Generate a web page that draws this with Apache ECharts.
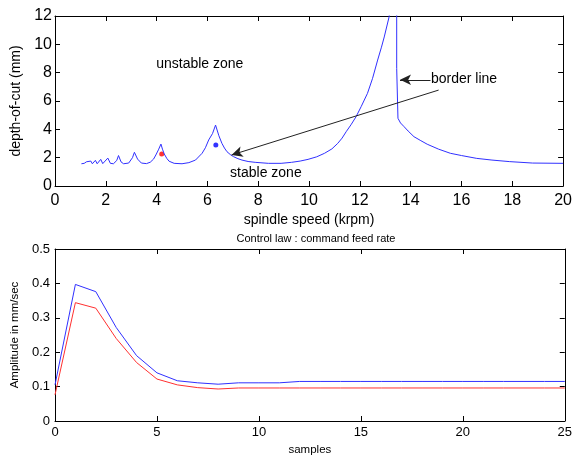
<!DOCTYPE html>
<html>
<head>
<meta charset="utf-8">
<script src="https://cdn.jsdelivr.net/npm/echarts@6/dist/echarts.min.js"></script>
<style>
  html, body { margin: 0; padding: 0; background: #fff; }
  #chart { width: 575px; height: 457px; }
</style>
</head>
<body>
<div id="chart"></div>
<script>
let chart = echarts.init(document.getElementById('chart'));

/* Stability lobe border (spindle speed krpm / depth of cut mm). */
let lobeSpeed = [1.04, 1.15, 1.24, 1.3, 1.41, 1.47, 1.59, 1.66, 1.8, 1.88, 2.08, 2.18, 2.3, 2.43, 2.5, 2.6, 2.7, 2.9, 3.05, 3.125,
    3.25, 3.4, 3.6, 3.75, 3.88, 3.97, 4.07, 4.17, 4.23, 4.3, 4.4, 4.49, 4.69, 5.0, 5.27, 5.53, 5.79, 5.92, 6.05, 6.2, 6.32,
    6.45, 6.57, 6.67, 6.77, 6.9, 7.03, 7.2, 7.36, 7.6, 7.88, 8.4, 8.9, 9.31, 9.65, 9.96, 10.3, 10.61, 10.9, 11.13, 11.3,
    11.46, 11.65, 11.85, 12.05, 12.3, 12.5, 12.7, 12.85, 12.96, 13.15, 13.25, 13.45, 13.45, 13.5, 13.5, 13.6, 13.74, 13.9,
    14.13, 14.4, 14.65, 15.1, 15.56, 16.0, 16.6, 17.2, 17.9, 18.8, 20];
let lobeDepth = [1.57, 1.6, 1.71, 1.57, 1.76, 1.57, 1.81, 1.57, 1.88, 1.58, 1.97, 1.6, 1.57, 1.8, 2.15, 1.7, 1.57, 1.62, 2.0, 2.38,
    1.9, 1.62, 1.58, 1.68, 1.9, 2.19, 2.55, 2.96, 2.6, 2.26, 1.95, 1.75, 1.6, 1.57, 1.65, 1.83, 2.31, 2.7, 3.25, 3.7, 4.3,
    3.55, 3.01, 2.68, 2.42, 2.22, 2.07, 1.93, 1.83, 1.73, 1.67, 1.6, 1.6, 1.67, 1.76, 1.88, 2.06, 2.31, 2.62, 3.01, 3.38,
    3.83, 4.32, 4.89, 5.6, 6.54, 7.6, 8.89, 9.8, 10.52, 11.93, 13.5, 14, 8.3, 8.2, 4.78, 4.45, 4.19, 3.88,
    3.48, 3.2, 2.95, 2.6, 2.31, 2.15, 1.95, 1.83, 1.72, 1.62, 1.6];

/* Marked cutting conditions. */
let redPoint = [4.2, 2.26];
let bluePoint = [6.33, 2.9];

/* Text annotations. */
let notes = ['unstable zone', 'stable zone', 'border line'];
let noteAt = [[5.7, 8.6], [8.3, 0.92], [14.8, 7.55]];
let longArrow = [[15.1, 6.77], [6.95, 2.19]];
let borderArrow = [[14.78, 7.5], [13.58, 7.5]];

/* Control law: command feed rate. */
let samples = [0, 1, 2, 3, 4, 5, 6, 7, 8, 9, 10, 11, 12, 13, 14, 15, 16, 17, 18, 19, 20, 21, 22, 23, 24, 25];
let blueAmp = [0.105, 0.397, 0.376, 0.272, 0.19, 0.14, 0.117, 0.111, 0.107, 0.111, 0.111, 0.111, 0.115, 0.115, 0.115,
    0.115, 0.115, 0.115, 0.115, 0.115, 0.115, 0.115, 0.115, 0.115, 0.115, 0.115];
let redAmp = [0.076, 0.344, 0.328, 0.24, 0.17, 0.122, 0.105, 0.097, 0.093, 0.096, 0.096, 0.096, 0.096, 0.096, 0.096,
    0.096, 0.096, 0.096, 0.096, 0.096, 0.096, 0.096, 0.096, 0.096, 0.096, 0.096];

let font = "'Liberation Sans', Arial, sans-serif";

function zip(xs, ys) {
    return xs.map(function (x, i) { return [x, ys[i]]; });
}

function boxAxis(gridIndex, position, min, max, interval, fontSize, margin, extra) {
    let main = position === 'bottom' || position === 'left';
    return Object.assign({
        type: 'value',
        gridIndex: gridIndex,
        position: position,
        min: min,
        max: max,
        interval: interval,
        axisLine: { show: true, onZero: false, lineStyle: { color: '#000', width: 1 } },
        axisTick: { show: true, inside: true, length: 5, lineStyle: { color: '#000' } },
        axisLabel: { show: main, color: '#000', fontFamily: font, fontSize: fontSize, margin: margin },
        splitLine: { show: false }
    }, extra || {});
}

let axisName = { color: '#000', fontFamily: font };

let option = {
    animation: false,
    backgroundColor: '#fff',
    title: {
        text: 'Control law : command feed rate',
        left: 311,
        top: 228,
        textAlign: 'center',
        textStyle: { fontFamily: font, fontSize: 11, fontWeight: 'normal', color: '#000' }
    },
    grid: [
        { left: 55, right: 8, top: 16, height: 170 },
        { left: 55, right: 8, top: 249, height: 172 }
    ],
    xAxis: [
        boxAxis(0, 'bottom', 0, 20, 2, 16, 7, {
            name: 'spindle speed (krpm)', nameLocation: 'middle', nameGap: 27,
            nameTextStyle: Object.assign({ fontSize: 14 }, axisName)
        }),
        boxAxis(0, 'top', 0, 20, 2, 16, 7),
        boxAxis(1, 'bottom', 0, 25, 5, 13, 5, {
            name: 'samples', nameLocation: 'middle', nameGap: 23,
            nameTextStyle: Object.assign({ fontSize: 11.5 }, axisName)
        }),
        boxAxis(1, 'top', 0, 25, 5, 13, 5)
    ],
    yAxis: [
        boxAxis(0, 'left', 0, 12, 2, 16, 3, {
            name: 'depth-of-cut (mm)', nameLocation: 'middle', nameGap: 31,
            nameTextStyle: Object.assign({ fontSize: 14 }, axisName)
        }),
        boxAxis(0, 'right', 0, 12, 2, 16, 3),
        boxAxis(1, 'left', 0, 0.5, 0.1, 13, 5, {
            name: 'Amplitude in mm/sec', nameLocation: 'middle', nameGap: 32,
            nameTextStyle: Object.assign({ fontSize: 11.5 }, axisName)
        }),
        boxAxis(1, 'right', 0, 0.5, 0.1, 13, 5)
    ],
    series: [
        {
            name: 'border',
            type: 'line',
            xAxisIndex: 0,
            yAxisIndex: 0,
            data: zip(lobeSpeed, lobeDepth),
            showSymbol: false,
            clip: true,
            lineStyle: { color: '#3030ff', width: 1 },
            markLine: {
                silent: true,
                symbol: ['none', 'arrow'],
                symbolSize: [8, 11],
                label: { show: false },
                lineStyle: { color: '#222', width: 1, type: 'solid' },
                data: [
                    [{ coord: longArrow[0] }, { coord: longArrow[1] }],
                    [{ coord: borderArrow[0] }, { coord: borderArrow[1] }]
                ]
            }
        },
        {
            name: 'points',
            type: 'scatter',
            xAxisIndex: 0,
            yAxisIndex: 0,
            symbolSize: 5,
            data: [
                { value: redPoint, itemStyle: { color: '#ff0000' } },
                { value: bluePoint, itemStyle: { color: '#0000ff' } }
            ],
            markPoint: {
                silent: true,
                symbol: 'circle',
                symbolSize: 0,
                label: { show: true, color: '#000', fontFamily: font, fontSize: 14 },
                data: notes.map(function (t, i) {
                    return {
                        coord: noteAt[i],
                        label: {
                            formatter: t,
                            position: i === 2 ? 'right' : 'inside',
                            distance: 0
                        }
                    };
                })
            }
        },
        {
            name: 'blue',
            type: 'line',
            xAxisIndex: 2,
            yAxisIndex: 2,
            data: zip(samples, blueAmp),
            showSymbol: false,
            lineStyle: { color: '#3030ff', width: 1 }
        },
        {
            name: 'red',
            type: 'line',
            xAxisIndex: 2,
            yAxisIndex: 2,
            data: zip(samples, redAmp),
            showSymbol: false,
            lineStyle: { color: '#ff3030', width: 1 }
        }
    ]
};

chart.setOption(option);
</script>
</body>
</html>
